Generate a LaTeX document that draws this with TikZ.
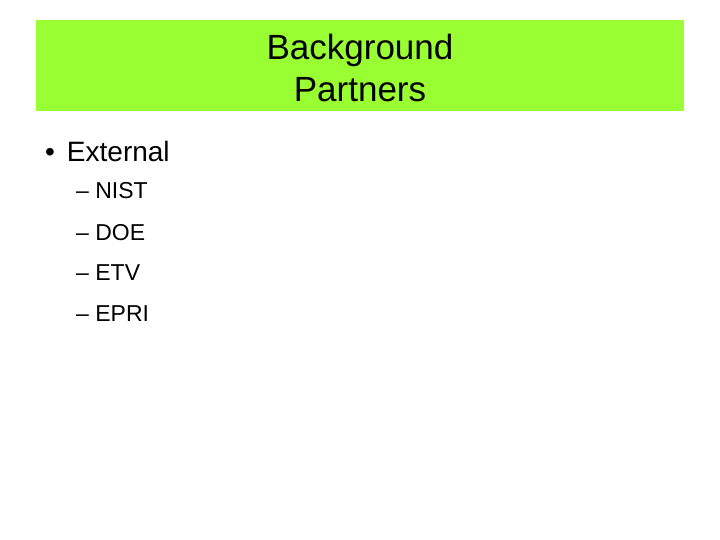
\documentclass[tikz,border=0pt]{standalone}
\usepackage{fontspec}
\setmainfont{Liberation Sans}
\definecolor{titlegreen}{HTML}{99FF33}
\begin{document}
\begin{tikzpicture}[x=1pt,y=-1pt,
  title/.style={font=\fontsize{35}{42}\selectfont,align=center},
  lvlone/.style={font=\fontsize{28}{34}\selectfont,anchor=west,inner sep=0},
  lvltwo/.style={font=\fontsize{23}{28}\selectfont,anchor=west,inner sep=0}]
\useasboundingbox (0,0) rectangle (720,540);
\fill[titlegreen] (36,20) rectangle (684,111);
\node[title] (t) at (360,68) {Background\\Partners};
\node[lvlone] (ext) at (45,151) {•\hspace{12pt}External};
\node[lvltwo] (a) at (76,191) {– NIST};
\node[lvltwo] (b) at (76,233) {– DOE};
\node[lvltwo] (c) at (76,273) {– ETV};
\node[lvltwo] (d) at (76,314) {– EPRI};
\end{tikzpicture}
\end{document}
